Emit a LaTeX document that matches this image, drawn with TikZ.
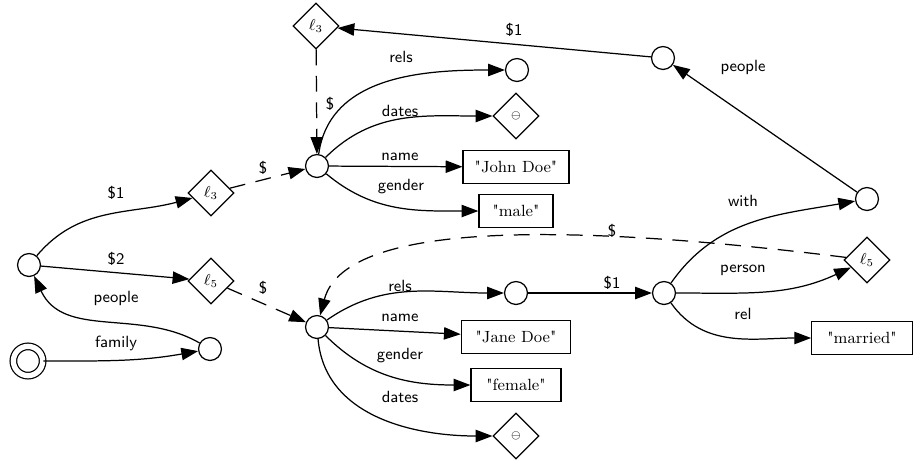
\documentclass[tikz,border=0pt]{standalone}
\usetikzlibrary{shapes.geometric,arrows.meta}
\newcommand{\qq}[1]{\textquotedbl#1\textquotedbl}
\begin{document}
\begin{tikzpicture}[x=0.567pt,y=-0.567pt,
  st/.style={circle,draw,line width=0.7pt,minimum size=13pt,inner sep=0pt},
  stst/.style={circle,draw,line width=0.7pt,double,double distance=3pt,minimum size=16.6pt,inner sep=0pt},
  dm/.style={diamond,draw,line width=0.7pt,minimum size=26pt,inner sep=0pt,font=\fontsize{9.2}{11}\selectfont},
  bx/.style={rectangle,draw,line width=0.7pt,minimum height=18.7pt,inner xsep=4pt,font=\fontsize{9.2}{11}\selectfont},
  lab/.style={font=\fontsize{9.2}{11}\selectfont\sffamily,inner sep=1pt},
  ar/.style={-{Triangle[length=9.5pt,width=7pt]},line width=0.7pt},
  dsh/.style={ar,dash pattern=on 9pt off 6pt}]
\useasboundingbox (0,0) rectangle (917,466);
% nodes
\node[st] (root) at (29,265) {};
\node[stst] (s) at (28,361) {};
\node[st] (f) at (210,349) {};
\node[dm] (d3) at (211,193) {$\ell_3$};
\node[dm] (d5) at (211,281) {$\ell_5$};
\node[st] (j) at (317,166) {};
\node[dm] (t3) at (316,26) {$\ell_3$};
\node[st] (rt) at (517,70) {};
\node[dm] (dt) at (516,116) {$\scriptstyle\ominus$};
\node[bx,minimum width=60pt] (jd) at (516,167) {\qq{John Doe}};
\node[bx,minimum width=42pt] (ml) at (516,211) {\qq{male}};
\node[st] (p) at (663,58) {};
\node[st] (w) at (867,199) {};
\node[st] (n) at (317,327) {};
\node[st] (rb) at (516,293) {};
\node[bx,minimum width=62pt] (jn) at (516,337) {\qq{Jane Doe}};
\node[bx,minimum width=51pt] (fe) at (516,385) {\qq{female}};
\node[dm] (db) at (516,436) {$\scriptstyle\ominus$};
\node[st] (c) at (664,293) {};
\node[dm] (d5r) at (867,260) {$\ell_5$};
\node[bx,minimum width=57pt] (mr) at (862,338) {\qq{married}};
% connectors
\draw[ar] (s) to[out=0,in=190] (f);
\draw[ar] (f) to[out=150,in=-65] (root);
\draw[ar] (root) to[out=50,in=195] (d3);
\draw[ar] (root) -- (d5);
\draw[dsh] (d3) -- (j);
\draw[dsh] (d5) -- (n);
\draw[dsh] (t3) -- (j);
\draw[ar] (j) to[out=82,in=180] (rt);
\draw[ar] (j) to[out=45,in=180] (dt);
\draw[ar] (j) -- (jd);
\draw[ar] (j) to[out=-40,in=180] (ml);
\draw[ar] (p) -- (t3);
\draw[ar] (w) -- (p);
\draw[ar] (c) to[out=55,in=190] (w);
\draw[ar] (c) to[out=0,in=205] (d5r);
\draw[ar] (c) to[out=-55,in=180] (mr);
\draw[ar] (rb) -- (c);
\draw[ar] (n) to[out=35,in=180] (rb);
\draw[ar] (n) -- (jn);
\draw[ar] (n) to[out=-45,in=180] (fe);
\draw[ar] (n) to[out=-85,in=180] (db);
\draw[dsh] (d5r) .. controls (560,222) and (345,222) .. (n);
% labels
\node[lab] (lfam) at (116,343) {family};
\node[lab] (lpeo) at (116,298) {people};
\node[lab] (l1a) at (116,193) {\$1};
\node[lab] (l2a) at (116,259) {\$2};
\node[lab] (ldj) at (263,168) {\$};
\node[lab] (ldn) at (263,288) {\$};
\node[lab] (ldt) at (330,104) {\$};
\node[lab] (lrt) at (401,57) {rels};
\node[lab] (ldat) at (400,111) {dates};
\node[lab] (lnt) at (400,157) {name};
\node[lab] (lgt) at (401,187) {gender};
\node[lab] (l1t) at (514,30) {\$1};
\node[lab] (lpr) at (743,67) {people};
\node[lab] (lw) at (743,201) {with};
\node[lab] (ldr) at (612,231) {\$};
\node[lab] (lper) at (743,270) {person};
\node[lab] (l1m) at (612,283) {\$1};
\node[lab] (lrel) at (743,314) {rel};
\node[lab] (lrb) at (400,286) {rels};
\node[lab] (lnb) at (400,318) {name};
\node[lab] (lgb) at (400,356) {gender};
\node[lab] (ldb) at (400,397) {dates};
\end{tikzpicture}
\end{document}
